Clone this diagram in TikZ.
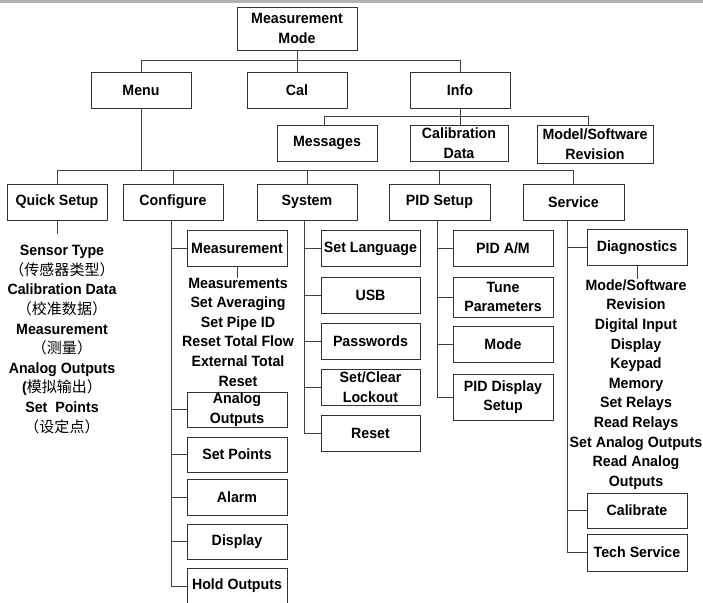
\documentclass[tikz,border=0pt]{standalone}
\usepackage{fontspec}
\setmainfont{Liberation Sans}[FakeStretch=0.953]
\newfontfamily\cjk{Noto Sans CJK SC}
\usetikzlibrary{positioning}

\begin{document}
\begin{tikzpicture}[x=1pt,y=-1pt,
  box/.style={draw=black!80, line width=0.9pt, fill=white, inner sep=0pt, align=center,
    minimum width=100pt, minimum height=36pt},
  list/.style={align=center, inner sep=0pt},
  wire/.style={draw=black!75, line width=0.8pt},
  font=\bfseries\fontsize{14.9}{19.6}\selectfont]
  \useasboundingbox (0,0) rectangle (703,602);
  \clip (0,0) rectangle (703,602);
  \fill[black!30] (0,0) rectangle (703,2.7);

  \node[box, minimum width=120pt, minimum height=43pt] (mmode) at (297,28.5) {Measurement\\Mode};
  \node[box] (menu) at (141,90) {Menu};
  \node[box] (cal) at (297,90) {Cal};
  \node[box] (info) at (460,90) {Info};
  \node[box] (msgs) at (327,143) {Messages};
  \node[box, minimum width=98pt] (caldata) at (459,143) {Calibration\\Data};
  \node[box, minimum width=116pt, minimum height=38pt] (model) at (595,144) {Model/Software\\Revision};

  \draw[wire] (mmode.south) -- ++(0,10) -| (menu.north);
  \draw[wire] (mmode.south) -- (cal.north);
  \draw[wire] (mmode.south) -- ++(0,10) -| (info.north);
  \draw[wire] (info.south) -- (info.south |- caldata.north);
  \draw[wire] (info.south) -- ++(0,8) -| ([xshift=-3pt]msgs.north);
  \draw[wire] (info.south) -- ++(0,8) -| ([xshift=-7pt]model.north);

  \node[box] (quick) at (57,202) {Quick Setup};
  \node[box] (config) at (173,202) {Configure};
  \node[box] (system) at (307,202) {System};
  \node[box, minimum width=101pt] (pid) at (439.5,202) {PID Setup};
  \node[box, minimum width=101pt] (service) at (573.5,202) {Service};
  \foreach \n in {quick,config,system,pid,service}
    \draw[wire] (menu.south) -- ++(0,62) -| (\n.north);

  \node[list] (qsitems) at (62,339.5) {Sensor Type\\{\cjk\mdseries\fontsize{15}{19.6}\selectfont （传感器类型）}\\Calibration Data\\
    {\cjk\mdseries\fontsize{15}{19.6}\selectfont （校准数据）}\\Measurement\\{\cjk\mdseries\fontsize{15}{19.6}\selectfont （测量）}\\Analog Outputs\\
    ({\cjk\mdseries\fontsize{15}{19.6}\selectfont 模拟输出）}\\Set\ \ Points\\{\cjk\mdseries\fontsize{15}{19.6}\selectfont （设定点）}};
  \draw[wire, shorten >=11pt] (quick.south) -- (quick.south |- qsitems.north);

  \node[box] (meas) at (237,248) {Measurement};
  \node[list] (measitems) at (238,332) {Measurements\\Set Averaging\\Set Pipe ID\\Reset Total Flow\\
    External Total\\Reset};
  \node[box, minimum height=35pt] (aout) at (237,409.5) {Analog\\Outputs};
  \node[box, minimum height=35pt] (spts) at (237,454.5) {Set Points};
  \node[box] (alarm) at (237,497) {Alarm};
  \node[box, minimum height=35pt] (disp) at (237,541.5) {Display};
  \node[box] (hold) at (237,586) {Hold Outputs};
  \foreach \n in {meas,aout,spts,alarm,disp,hold}
    \draw[wire] ([xshift=-2pt]config.south) |- (\n.west);
  \draw[wire] (meas.south) -- (meas.south |- measitems.north);

  \node[box, minimum width=99pt] (slang) at (370.5,248.5) {Set Language};
  \node[box, minimum width=99pt] (usb) at (370.5,295) {USB};
  \node[box, minimum width=99pt] (pwd) at (370.5,341) {Passwords};
  \node[box, minimum width=99pt] (lock) at (370.5,387) {Set/Clear\\Lockout};
  \node[box, minimum width=99pt] (sreset) at (370.5,433) {Reset};
  \foreach \n in {slang,usb,pwd,lock,sreset}
    \draw[wire] ([xshift=-3pt]system.south) |- (\n.west);

  \node[box] (pidam) at (503,248.5) {PID A/M};
  \node[box, minimum height=40pt] (tune) at (503,297) {Tune\\Parameters};
  \node[box] (pmode) at (503,344) {Mode};
  \node[box, minimum height=46pt] (piddisp) at (503,397) {PID Display\\Setup};
  \foreach \n in {pidam,tune,pmode,piddisp}
    \draw[wire] ([xshift=-2.5pt]pid.south) |- (\n.west);

  \node[box] (diag) at (637,247.5) {Diagnostics};
  \node[list] (diagitems) at (636,384.5) {Mode/Software\\Revision\\Digital Input\\Display\\Keypad\\
    Memory\\Set Relays\\Read Relays\\Set Analog Outputs\\Read Analog\\Outputs};
  \node[box, minimum height=35pt] (calib) at (637,510.5) {Calibrate};
  \node[box, minimum height=37pt] (tech) at (637,552.5) {Tech Service};
  \foreach \n in {diag,calib,tech}
    \draw[wire] ([xshift=-6.5pt]service.south) |- (\n.west);
  \draw[wire] (diag.south) -- (diag.south |- diagitems.north);
\end{tikzpicture}
\end{document}
